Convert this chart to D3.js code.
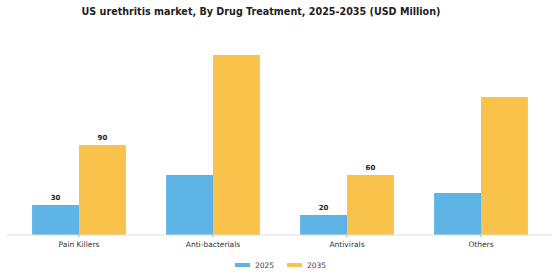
<!DOCTYPE html>
<html><head><meta charset="utf-8">
<script src="https://cdn.jsdelivr.net/npm/d3@7"></script>
<style>body{margin:0;background:#fff}svg{display:block}</style>
</head><body>
<script>
const categories = ["Pain Killers", "Anti-bacterials", "Antivirals", "Others"];
const years = ["2025", "2035"];
const values2025 = [30, 60, 20, 42];
const values2035 = [90, 180, 60, 138];
const showLabel = [true, false, true, false];
const colors = ["#5DB4E5", "#F9C34B"];

const W = 560, H = 280;
const svg = d3.select("body").append("svg").attr("width", W).attr("height", H);

const baseY = 235;
const x = d3.scaleBand().domain(categories).range([12, 548]).paddingInner(0.3).paddingOuter(0.15);
const xs = d3.scaleBand().domain(years).range([0, x.bandwidth()]);
const y = d3.scaleLinear().domain([0, 200]).range([baseY, baseY - 200]);

const series = [values2025, values2035];

svg.append("text").attr("x", 261).attr("y", 15).attr("text-anchor", "middle")
  .attr("font-family", "DejaVu Sans").attr("font-weight", "bold").attr("font-size", 9.6)
  .attr("fill", "#222").text("US urethritis market, By Drug Treatment, 2025-2035 (USD Million)");

const g = svg.append("g");
categories.forEach((c, i) => {
  years.forEach((yr, j) => {
    const v = series[j][i];
    g.append("rect").attr("x", x(c) + xs(yr)).attr("y", y(v))
      .attr("width", xs.bandwidth()).attr("height", y(0) - y(v)).attr("fill", colors[j]);
    if (showLabel[i]) {
      g.append("text").attr("x", x(c) + xs(yr) + xs.bandwidth() / 2).attr("y", y(v) - 5)
        .attr("text-anchor", "middle").attr("font-family", "DejaVu Sans").attr("font-weight", "bold")
        .attr("font-size", 7).attr("fill", "#222").text(v);
    }
  });
});

const axis = d3.axisBottom(x).tickSize(2).tickSizeOuter(0);
const ag = svg.append("g").attr("transform", `translate(0,${baseY})`).call(axis);
ag.select(".domain").remove();
ag.append("line").attr("x1", 7).attr("x2", 552).attr("stroke", "#ddd");
ag.selectAll(".tick line").attr("stroke", "#999");
ag.selectAll(".tick text").attr("font-family", "DejaVu Sans").attr("font-size", 7.5)
  .attr("fill", "#333").attr("dy", "0.9em");

const leg = svg.append("g");
const legX = [235, 287];
years.forEach((yr, j) => {
  leg.append("rect").attr("x", legX[j]).attr("y", 263).attr("width", 15).attr("height", 4).attr("fill", colors[j]);
  leg.append("text").attr("x", legX[j] + 20).attr("y", 268).attr("font-family", "DejaVu Sans")
    .attr("font-size", 7.5).attr("fill", "#444").text(yr);
});
</script>
</body></html>
